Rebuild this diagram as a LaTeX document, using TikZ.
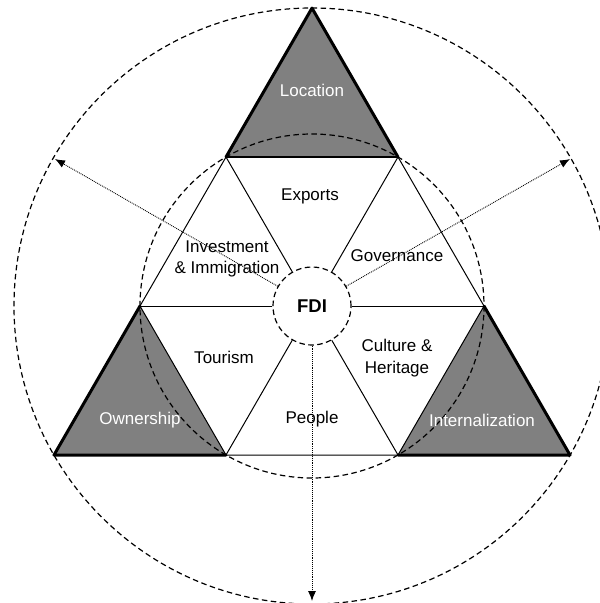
\documentclass[tikz,border=0pt]{standalone}
\usepackage{fontspec}
\setmainfont{Liberation Sans}
\usetikzlibrary{arrows.meta}
\definecolor{cornergray}{HTML}{808080}
\tikzset{
  px/.style={x=1pt,y=-1pt},
  thickedge/.style={line width=3pt,line join=round,line cap=round},
  thinedge/.style={line width=1pt},
  midedge/.style={line width=1.8pt},
  dashcircle/.style={line width=1.2pt,dash pattern=on 5.5pt off 3.5pt},
  dotarrow/.style={line width=0.9pt,densely dotted,-{Latex[length=10pt,width=8pt]}},
  lab/.style={font=\fontsize{17}{21.5}\selectfont,align=center,text=black},
  wlab/.style={font=\fontsize{17}{21.5}\selectfont,align=center,text=white},
}
\begin{document}
\begin{tikzpicture}[px]
\useasboundingbox (0,0) rectangle (600,603);
\begin{scope}
\clip (0,0) rectangle (600,603);
% key points
\coordinate (c) at (312,306);
\coordinate (T) at (312,8.1);
\coordinate (BL) at (54,455);
\coordinate (BR) at (570,455);
\coordinate (h0) at (484,306);
\coordinate (h60) at (398,157);
\coordinate (h120) at (226,157);
\coordinate (h180) at (140,306);
\coordinate (h240) at (226,455);
\coordinate (h300) at (398,455);
\coordinate (aUL) at (55,159);
\coordinate (aUR) at (570,159);
\coordinate (aD) at (312,601);
% corner triangles
\fill[cornergray] (T) -- (h60) -- (h120) -- cycle;
\fill[cornergray] (BL) -- (h180) -- (h240) -- cycle;
\fill[cornergray] (BR) -- (h0) -- (h300) -- cycle;
% dashed circles
\draw[dashcircle] (c) circle[radius=298];
\draw[dashcircle] (c) circle[radius=172];
% hexagon edges
\draw[thinedge] (h120) -- (h180) -- (h240) -- (h300) -- (h0) -- (h60);
\draw[midedge] (h60) -- (h120);
% center node
\node[circle,draw,dashcircle,fill=white,minimum size=78pt,inner sep=0pt,
      font=\bfseries\fontsize{18.5}{22}\selectfont] (fdi) at (c) {FDI};
% spokes
\draw[thinedge] (fdi.0) -- (h0);
\draw[thinedge] (fdi.60) -- (h60);
\draw[thinedge] (fdi.120) -- (h120);
\draw[thinedge] (fdi.180) -- (h180);
\draw[thinedge] (fdi.240) -- (h240);
\draw[thinedge] (fdi.300) -- (h300);
% outer thick edges
\draw[thickedge] (h120) -- (T) -- (h60);
\draw[thickedge] (h180) -- (BL) -- (h240);
\draw[thickedge] (h0) -- (BR) -- (h300);
% arrows
\draw[dotarrow] (fdi.150) -- (aUL);
\draw[dotarrow] (fdi.30) -- (aUR);
\draw[dotarrow] (fdi.270) -- (aD);
% labels
\node[wlab] (loc) at (312,90) {Location};
\node[wlab] (own) at (140,420) {Ownership};
\node[wlab] (int) at (482,420) {Internalization};
\node[lab] (exp) at (310,196) {Exports};
\node[lab] (inv) at (227,259) {Investment\\\& Immigration};
\node[lab] (gov) at (397,256) {Governance};
\node[lab] (tou) at (224,357) {Tourism};
\node[lab] (cul) at (397,358) {Culture \&\\Heritage};
\node[lab] (peo) at (312,419) {People};
\end{scope}
\end{tikzpicture}
\end{document}
